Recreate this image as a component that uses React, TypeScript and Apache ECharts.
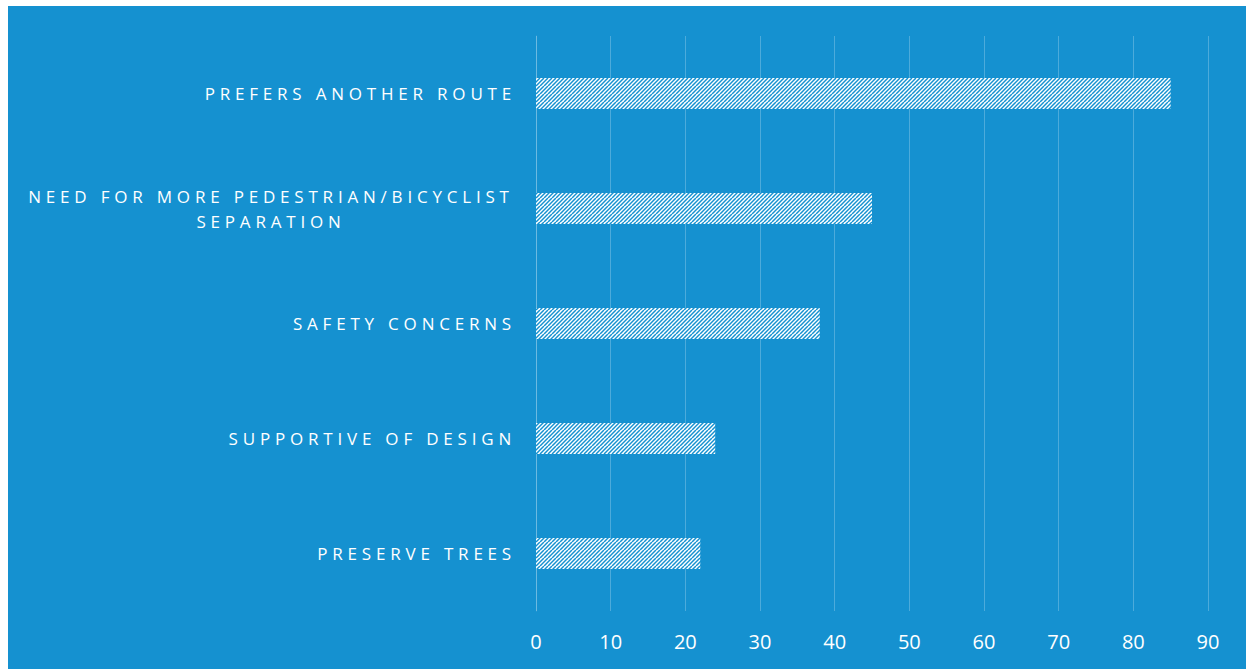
import React, { useEffect, useRef } from "react";
import * as echarts from "echarts";

const categories = [
  "PREFERS ANOTHER ROUTE",
  "NEED FOR MORE PEDESTRIAN/BICYCLIST\nSEPARATION",
  "SAFETY CONCERNS",
  "SUPPORTIVE OF DESIGN",
  "PRESERVE TREES",
];
const values = [85, 45, 38, 24, 22];
const xMin = 0;
const xMax = 90;
const xInterval = 10;

const BG = "#1591d0";
const FONT = "'Open Sans', 'Noto Sans', sans-serif";
const SPACING = "4.8px";

function makeHatch(): any {
  const size = 8;
  const c = document.createElement("canvas");
  c.width = size;
  c.height = size;
  const ctx = c.getContext("2d");
  if (!ctx) return "#ffffff";
  ctx.fillStyle = "#ffffff";
  ctx.fillRect(0, 0, size, size);
  ctx.strokeStyle = BG;
  ctx.lineWidth = 1.5;
  for (let k = -size; k <= size * 2; k += 4) {
    ctx.beginPath();
    ctx.moveTo(k, size);
    ctx.lineTo(k + size, 0);
    ctx.stroke();
  }
  return {
    image: c.toDataURL(),
    repeat: "repeat",
    imageWidth: size,
    imageHeight: size,
  };
}

export default function App() {
  const ref = useRef<HTMLDivElement>(null);

  useEffect(() => {
    if (!ref.current) return;
    const chart = echarts.init(ref.current, undefined, { renderer: "svg" });

    const applySpacing = () => {
      if (!ref.current) return;
      const texts = ref.current.querySelectorAll("text");
      texts.forEach((t) => {
        const s = t.textContent || "";
        if (/[A-Z]/.test(s)) {
          (t as SVGTextElement).style.letterSpacing = SPACING;
        }
      });
    };

    chart.setOption({
      animation: false,
      backgroundColor: BG,
      grid: { left: 528, right: 38, top: 30, bottom: 58, containLabel: false },
      xAxis: {
        type: "value",
        min: xMin,
        max: xMax,
        interval: xInterval,
        axisLine: { show: false },
        axisTick: { show: false },
        splitLine: { show: true, lineStyle: { color: "rgba(255,255,255,0.24)", width: 1 } },
        axisLabel: {
          color: "#ffffff",
          fontSize: 20,
          fontFamily: FONT,
          margin: 20,
        },
      },
      yAxis: {
        type: "category",
        inverse: true,
        data: categories,
        axisTick: { show: false },
        axisLine: { show: true, lineStyle: { color: "rgba(255,255,255,0.18)", width: 1 } },
        axisLabel: {
          interval: 0,
          color: "#ffffff",
          fontSize: 17,
          fontFamily: FONT,
          margin: 20,
          lineHeight: 25,
          formatter: (v: string) =>
            v.includes("\n")
              ? v
                  .split("\n")
                  .map((l) => `{c|${l}}`)
                  .join("\n")
              : v,
          rich: {
            c: {
              width: 490,
              align: "center",
              color: "#ffffff",
              fontSize: 17,
              fontFamily: FONT,
              lineHeight: 25,
            },
          },
        },
      },
      series: [
        {
          type: "bar",
          data: values,
          barWidth: 31,
          silent: true,
          itemStyle: {
            color: makeHatch(),
          },
        },
      ],
    });

    applySpacing();
    chart.on("finished", applySpacing);
    const raf = requestAnimationFrame(applySpacing);
    const to = setTimeout(applySpacing, 50);

    return () => {
      cancelAnimationFrame(raf);
      clearTimeout(to);
      chart.dispose();
    };
  }, []);

  return (
    <div
      ref={ref}
      style={{ position: "fixed", left: 8, top: 6, width: 1238, height: 663 }}
    />
  );
}
